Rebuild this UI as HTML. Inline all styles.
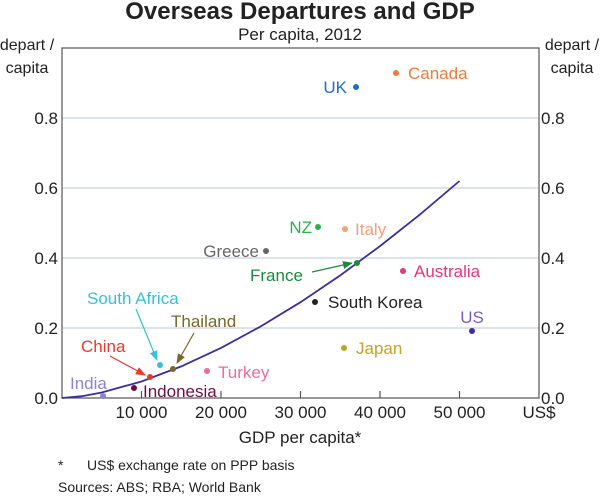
<!DOCTYPE html>
<html><head><meta charset="utf-8"><style>
body{margin:0;background:#fff}
svg text{font-family:"Liberation Sans",Arial,sans-serif}
</style></head><body>
<svg width="600" height="495" viewBox="0 0 600 495" xmlns="http://www.w3.org/2000/svg">
<defs>
<marker id="ar" viewBox="0 0 10 10" refX="9" refY="5" markerWidth="10" markerHeight="10" markerUnits="userSpaceOnUse" orient="auto"><path d="M0,1 L10,5 L0,9 Z" fill="context-stroke"/></marker>
</defs>
<text x="300" y="19" font-size="24" font-weight="bold" text-anchor="middle" fill="#222">Overseas Departures and GDP</text>
<text x="300" y="40" font-size="17" text-anchor="middle" fill="#222">Per capita, 2012</text>
<g font-size="16" fill="#222">
<text x="27" y="50" text-anchor="middle">depart /</text>
<text x="27" y="73" text-anchor="middle">capita</text>
<text x="572" y="50" text-anchor="middle">depart /</text>
<text x="572" y="73" text-anchor="middle">capita</text>
</g>
<g stroke="#c8d3dc" stroke-width="1.2">
<line x1="62" y1="118" x2="539" y2="118"/>
<line x1="62" y1="188" x2="539" y2="188"/>
<line x1="62" y1="258" x2="539" y2="258"/>
<line x1="62" y1="328" x2="539" y2="328"/>
</g>
<rect x="62" y="48" width="477" height="350" fill="none" stroke="#555" stroke-width="1.2"/>
<g stroke="#555" stroke-width="1.2">
<line x1="141.5" y1="398" x2="141.5" y2="391"/>
<line x1="221" y1="398" x2="221" y2="391"/>
<line x1="300.5" y1="398" x2="300.5" y2="391"/>
<line x1="380" y1="398" x2="380" y2="391"/>
<line x1="459.5" y1="398" x2="459.5" y2="391"/>
</g>
<g font-size="17" fill="#222">
<text x="58" y="124" text-anchor="end">0.8</text>
<text x="58" y="194" text-anchor="end">0.6</text>
<text x="58" y="264" text-anchor="end">0.4</text>
<text x="58" y="334" text-anchor="end">0.2</text>
<text x="58" y="404" text-anchor="end">0.0</text>
<text x="541" y="124">0.8</text>
<text x="541" y="194">0.6</text>
<text x="541" y="264">0.4</text>
<text x="541" y="334">0.2</text>
<text x="541" y="404">0.0</text>
<text x="141.5" y="418" text-anchor="middle">10 000</text>
<text x="221" y="418" text-anchor="middle">20 000</text>
<text x="300.5" y="418" text-anchor="middle">30 000</text>
<text x="380" y="418" text-anchor="middle">40 000</text>
<text x="459.5" y="418" text-anchor="middle">50 000</text>
<text x="539" y="418" text-anchor="middle">US$</text>
<text x="300" y="443" text-anchor="middle">GDP per capita*</text>
</g>
<g font-size="14" fill="#222">
<text x="58" y="470">*</text>
<text x="87" y="470">US$ exchange rate on PPP basis</text>
<text x="58" y="492">Sources:  ABS; RBA; World Bank</text>
</g>
<polyline fill="none" stroke="#3a2fa0" stroke-width="1.8" points="62,398 81.9,396.2 101.75,392.5 141.5,381.5 181.25,366.4 221,347.9 260.75,326.4 300.5,302.2 340.25,275.4 380,246.1 419.75,214.7 459.5,181"/>
<g font-size="17">
<circle cx="356" cy="87" r="3" fill="#1f6fc0"/><text x="347" y="93" text-anchor="end" fill="#1f6fc0">UK</text>
<circle cx="396" cy="73" r="3" fill="#f07a3a"/><text x="408" y="79" fill="#f07a3a">Canada</text>
<circle cx="318" cy="227" r="3" fill="#2ab04a"/><text x="312" y="233" text-anchor="end" fill="#2ab04a">NZ</text>
<circle cx="345" cy="229" r="3" fill="#f4a07a"/><text x="355" y="235" fill="#f4a07a">Italy</text>
<circle cx="266" cy="251" r="3" fill="#666"/><text x="259" y="257" text-anchor="end" fill="#666">Greece</text>
<circle cx="357" cy="263" r="3" fill="#1e8a3c"/><text x="250" y="281" fill="#1e8a3c">France</text>
<line x1="312" y1="272" x2="352" y2="263" stroke="#1e8a3c" stroke-width="1.2" marker-end="url(#ar)"/>
<circle cx="403" cy="271" r="3" fill="#e8357a"/><text x="414" y="277" fill="#e8357a">Australia</text>
<circle cx="315" cy="302" r="3" fill="#222"/><text x="328" y="308" fill="#222">South Korea</text>
<circle cx="472" cy="331" r="3" fill="#3a2fa0"/><text x="472" y="323" text-anchor="middle" fill="#7a5cc0">US</text>
<circle cx="344" cy="348" r="3" fill="#c9a020"/><text x="356" y="354" fill="#c9a020">Japan</text>
<circle cx="160" cy="365" r="3" fill="#35c0d8"/><text x="87" y="304" fill="#35c0d8">South Africa</text>
<line x1="136" y1="309" x2="157" y2="360" stroke="#35c0d8" stroke-width="1.2" marker-end="url(#ar)"/>
<circle cx="173" cy="369" r="3" fill="#7a6628"/><text x="171" y="327" fill="#7a6628">Thailand</text>
<line x1="194" y1="333" x2="177" y2="363" stroke="#7a6628" stroke-width="1.2" marker-end="url(#ar)"/>
<circle cx="150" cy="377" r="3" fill="#e83a2a"/><text x="81" y="352" fill="#e83a2a">China</text>
<line x1="110" y1="356" x2="145" y2="375" stroke="#e83a2a" stroke-width="1.2" marker-end="url(#ar)"/>
<circle cx="207" cy="371" r="3" fill="#f06aa0"/><text x="218" y="378" fill="#f06aa0">Turkey</text>
<circle cx="103" cy="396" r="3" fill="#8c84d0"/><text x="70" y="389" fill="#8c84d0">India</text>
<circle cx="134" cy="388" r="3" fill="#6a1040"/><text x="143" y="397" fill="#6a1040">Indonesia</text>
</g>
</svg>
</body></html>
